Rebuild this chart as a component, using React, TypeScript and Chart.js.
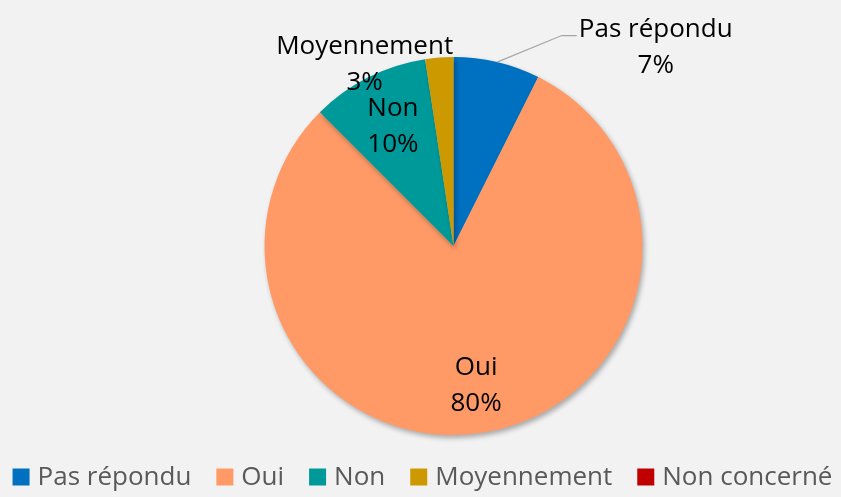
import React, { useEffect, useRef } from "react";
import { Chart, registerables } from "chart.js";

Chart.register(...registerables);

const categories = ["Pas répondu", "Oui", "Non", "Moyennement", "Non concerné"];
const values = [7.4, 80.1, 10.1, 2.4, 0];
const pctLabels = ["7%", "80%", "10%", "3%", "0%"];
const colors = ["#0070C0", "#FF9966", "#009999", "#CC9900", "#C00000"];

const FONT = "'Open Sans', 'Noto Sans', sans-serif";
const FONT_SIZE = 26;

const shadowPlugin = {
  id: "pieShadow",
  beforeDatasetsDraw(chart: any) {
    const ctx = chart.ctx;
    ctx.save();
    ctx.shadowColor = "rgba(0,0,0,0.3)";
    ctx.shadowBlur = 5;
    ctx.shadowOffsetX = 2;
    ctx.shadowOffsetY = 3;
  },
  afterDatasetsDraw(chart: any) {
    chart.ctx.restore();
  },
};

const legendPlugin = {
  id: "customLegend",
  afterDraw(chart: any) {
    const ctx = chart.ctx;
    const labels: string[] = chart.data.labels;
    const bg: string[] = chart.data.datasets[0].backgroundColor;
    ctx.save();
    ctx.font = `${FONT_SIZE}px ${FONT}`;
    ctx.textBaseline = "middle";
    ctx.textAlign = "left";
    const box = 17;
    const gapText = 8;
    const gapItem = 25;
    const widths = labels.map((l) => ctx.measureText(l).width);
    const total =
      widths.reduce((a, b) => a + b, 0) + labels.length * (box + gapText) + (labels.length - 1) * gapItem;
    let x = chart.width / 2 + 2 - total / 2;
    const cy = chart.height - 20;
    labels.forEach((l, i) => {
      ctx.fillStyle = bg[i];
      ctx.fillRect(x, cy - box / 2, box, box);
      ctx.fillStyle = "#595959";
      ctx.fillText(l, x + box + gapText, cy + 1);
      x += box + gapText + widths[i] + gapItem;
    });
    ctx.restore();
  },
};

const labelPlugin = {
  id: "sliceLabels",
  afterDatasetsDraw(chart: any) {
    const ctx = chart.ctx;
    const meta = chart.getDatasetMeta(0);
    ctx.save();
    ctx.font = `${FONT_SIZE}px ${FONT}`;
    ctx.fillStyle = "#000000";
    ctx.textAlign = "center";
    ctx.textBaseline = "middle";
    meta.data.forEach((arc: any, i: number) => {
      if (values[i] <= 0) return;
      const { x, y, startAngle, endAngle, outerRadius } = arc.getProps(
        ["x", "y", "startAngle", "endAngle", "outerRadius"],
        true
      );
      const mid = (startAngle + endAngle) / 2;
      let lx: number, ly: number;
      if (i === 1 || i === 2) {
        const f = i === 1 ? 0.75 : 0.71;
        lx = x + Math.cos(mid) * outerRadius * f;
        ly = y + Math.sin(mid) * outerRadius * f;
      } else if (i === 0) {
        lx = x + outerRadius * 1.07;
        ly = y - outerRadius * 1.05;
        const ex = x + Math.cos(mid) * outerRadius;
        const ey = y + Math.sin(mid) * outerRadius;
        ctx.strokeStyle = "#A6A6A6";
        ctx.lineWidth = 1.2;
        ctx.beginPath();
        ctx.moveTo(ex, ey);
        ctx.lineTo(lx - 94, ly - 12);
        ctx.lineTo(lx - 79, ly - 12);
        ctx.stroke();
      } else {
        lx = x - outerRadius * 0.47;
        ly = y - outerRadius * 0.96;
      }
      ctx.fillText(categories[i], lx, ly - 18);
      ctx.fillText(pctLabels[i], lx, ly + 18);
    });
    ctx.restore();
  },
};

export default function App() {
  const ref = useRef<HTMLCanvasElement>(null);
  useEffect(() => {
    document.body.style.margin = "0";
    const chart = new Chart(ref.current!, {
      type: "pie",
      data: {
        labels: categories,
        datasets: [
          {
            data: values,
            backgroundColor: colors,
            borderWidth: 0,
          },
        ],
      },
      options: {
        animation: false,
        responsive: false,
        layout: { padding: { top: 57, left: 66, right: 0, bottom: 62 } },
        plugins: {
          tooltip: { enabled: false },
          legend: { display: false },
        },
      },
      plugins: [shadowPlugin, labelPlugin, legendPlugin],
    });
    return () => chart.destroy();
  }, []);
  return (
    <div style={{ width: 841, height: 497, background: "#F2F2F2" }}>
      <canvas ref={ref} width={841} height={497} />
    </div>
  );
}
